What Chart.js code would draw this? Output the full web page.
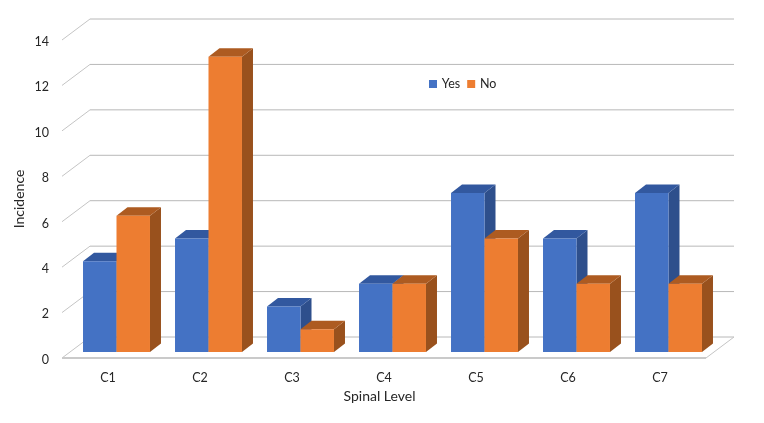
<!DOCTYPE html>
<html>
<head>
<meta charset="utf-8">
<title>Incidence by spinal level</title>
<script src="https://cdn.jsdelivr.net/npm/chart.js@4"></script>
<style>
  html, body { margin: 0; background: #fff; }
  canvas { display: block; }
</style>
</head>
<body>
<canvas id="grafico" width="764" height="423"></canvas>
<script>
const levels = ['C1', 'C2', 'C3', 'C4', 'C5', 'C6', 'C7'];
const yesValues = [4, 5, 2, 3, 7, 5, 7];
const noValues = [6, 13, 1, 3, 5, 3, 3];
const gridValues = [0, 2, 4, 6, 8, 10, 12, 14];

// fake 3d: how far the back wall and the bars are pushed from the front plane
const wall = { x: 28, y: -21 };
const barShift = { x: 8.5, y: -6 };
const barDepth = { x: 11, y: -8.5 };

const sideColors = [
  { side: '#2e4f8c', top: '#32589f' },
  { side: '#99511d', top: '#ad5b21' }
];

const textColor = '#262626';
const tickFont = { family: 'Lato', size: 12.5 };
const titleFont = { family: 'Lato', size: 14 };

function line(ctx, x1, y1, x2, y2, color, width) {
  ctx.beginPath();
  ctx.moveTo(x1, y1);
  ctx.lineTo(x2, y2);
  ctx.strokeStyle = color;
  ctx.lineWidth = width;
  ctx.stroke();
}

function poly(ctx, pts, color) {
  ctx.beginPath();
  pts.forEach(([x, y], i) => (i ? ctx.lineTo(x, y) : ctx.moveTo(x, y)));
  ctx.closePath();
  ctx.fillStyle = color;
  ctx.fill();
}

const wallGrid = {
  id: 'wallGrid',
  beforeDatasetsDraw(chart) {
    const { ctx, chartArea, scales } = chart;
    const { left, right } = chartArea;
    gridValues.forEach((v) => {
      const y = scales.y.getPixelForValue(v);
      line(ctx, left, y, left + wall.x, y + wall.y, '#c4c4c4', 1);
      line(ctx, left + wall.x, y + wall.y, right + wall.x, y + wall.y, '#b8b8b8', 1);
    });
    const floor = scales.y.getPixelForValue(0);
    line(ctx, right, floor, right + wall.x, floor + wall.y, '#c4c4c4', 1);
    line(ctx, left, floor, right, floor, '#cacaca', 2);
  }
};

// Yes has to go down first, its side is covered by the No bar next to it
const bars3d = {
  id: 'bars3d',
  beforeDatasetsDraw(chart) {
    const { ctx } = chart;
    ctx.save();
    ctx.translate(barShift.x, barShift.y);
    chart.data.datasets.forEach((ds, i) => {
      const meta = chart.getDatasetMeta(i);
      meta.data.forEach((bar) => {
        const l = bar.x - bar.width / 2;
        const r = bar.x + bar.width / 2;
        const dx = barDepth.x;
        const dy = barDepth.y;
        poly(ctx, [[r, bar.y], [r + dx, bar.y + dy], [r + dx, bar.base + dy], [r, bar.base]], sideColors[i].side);
        poly(ctx, [[l, bar.y], [l + dx, bar.y + dy], [r + dx, bar.y + dy], [r, bar.y]], sideColors[i].top);
      });
      meta.controller.draw();
    });
    ctx.restore();
    return false;
  }
};

const moveLegend = {
  id: 'moveLegend',
  afterLayout(chart) {
    const legend = chart.legend;
    legend.left = 422;
    legend.right = 600;
    legend.top = 69.25;
    legend.bottom = 100;
    // title of the picture sits a bit left of the axis centre
    chart.scales.x.right -= 9;
  }
};

const grafico = document.getElementById('grafico');

new Chart(grafico, {
  type: 'bar',
  data: {
    labels: levels,
    datasets: [
      { label: 'Yes', data: yesValues, backgroundColor: '#4472c4', categoryPercentage: 0.728, barPercentage: 1 },
      { label: 'No', data: noValues, backgroundColor: '#ed7d31', categoryPercentage: 0.728, barPercentage: 1 }
    ]
  },
  options: {
    responsive: false,
    animation: false,
    layout: { padding: { top: 9, left: 8, right: 58, bottom: 15 } },
    plugins: {
      tooltip: { enabled: false },
      legend: {
        position: 'top',
        align: 'start',
        labels: {
          boxWidth: 5,
          boxHeight: 5,
          padding: 8.5,
          color: textColor,
          font: tickFont,
          // small box plus same colour stroke, puts the swatch closer to its text
          generateLabels(chart) {
            return Chart.defaults.plugins.legend.labels.generateLabels(chart).map((item) => {
              item.strokeStyle = item.fillStyle;
              item.lineWidth = 3;
              return item;
            });
          }
        }
      }
    },
    scales: {
      x: {
        grid: { display: false, drawTicks: false },
        border: { display: false },
        ticks: { padding: 12, maxRotation: 0, color: textColor, font: tickFont },
        title: { display: true, text: 'Spinal Level', color: textColor, padding: { top: 0, bottom: 3 }, font: titleFont },
        afterFit(scale) { scale.height = 50; }
      },
      y: {
        min: 0,
        max: 14,
        grid: { display: false, drawTicks: false },
        border: { display: false },
        ticks: {
          stepSize: 2,
          padding: 13,
          color: textColor,
          font: { family: 'Lato', size: 12.5, lineHeight: 0.3 },
          // empty first line nudges the number down to where the front gridline starts
          callback(value) { return ['', value]; }
        },
        title: { display: true, text: 'Incidence', color: textColor, padding: { top: 3, bottom: 0 }, font: titleFont },
        afterFit(scale) { scale.width = 54; }
      }
    }
  },
  plugins: [wallGrid, bars3d, moveLegend]
});
</script>
</body>
</html>
